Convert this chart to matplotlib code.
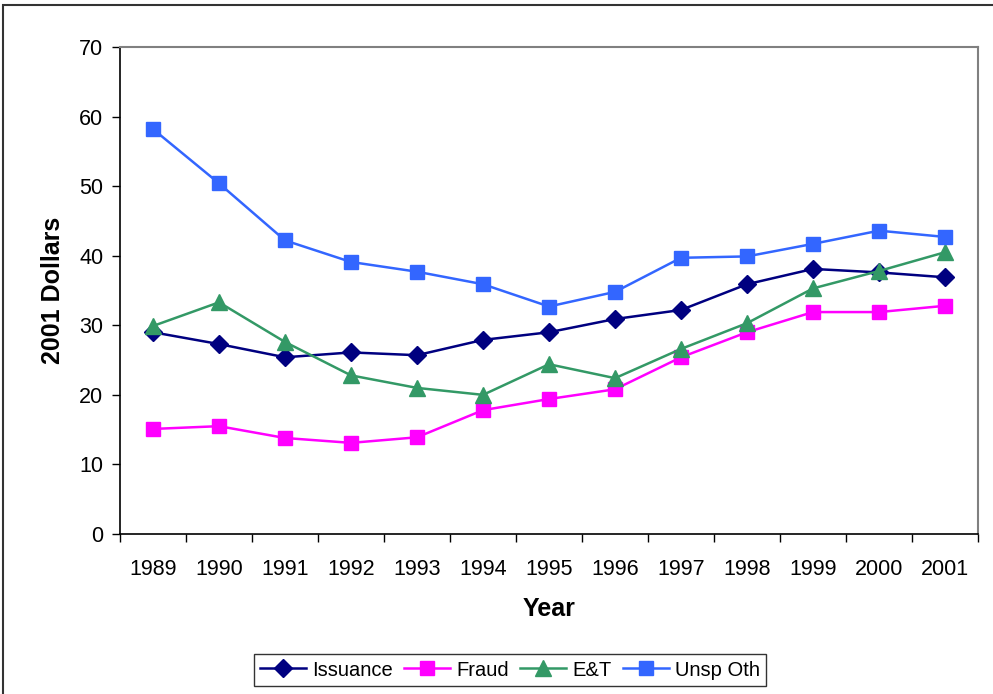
import matplotlib
matplotlib.use("Agg")
import matplotlib.pyplot as plt
from matplotlib.patches import Rectangle
import numpy as np

plt.rcParams['font.family'] = ['Liberation Sans', 'DejaVu Sans']

years = ["1989", "1990", "1991", "1992", "1993", "1994", "1995", "1996",
         "1997", "1998", "1999", "2000", "2001"]
issuance = [29.0, 27.3, 25.4, 26.1, 25.7, 27.9, 29.0, 30.9, 32.2, 35.9, 38.1, 37.6, 36.9]
fraud = [15.1, 15.5, 13.8, 13.1, 13.9, 17.8, 19.4, 20.8, 25.4, 29.0, 31.9, 31.9, 32.8]
et = [29.9, 33.3, 27.6, 22.8, 21.0, 20.0, 24.4, 22.4, 26.6, 30.3, 35.3, 37.8, 40.5]
unsp_oth = [58.2, 50.4, 42.2, 39.1, 37.7, 35.9, 32.7, 34.8, 39.7, 39.9, 41.7, 43.6, 42.7]
yticks = [0, 10, 20, 30, 40, 50, 60, 70]

fig = plt.figure(figsize=(9.93, 6.94), dpi=100)
ax = fig.add_axes([120/993, 1-534/694, (978-120)/993, (534-47)/694])

x = np.arange(len(years))
ax.plot(x, issuance, color='#000080', marker='D', markersize=9, lw=1.8, label='Issuance')
ax.plot(x, fraud, color='#FF00FF', marker='s', markersize=10, lw=1.8, label='Fraud')
ax.plot(x, et, color='#339966', marker='^', markersize=11, lw=1.8, label='E&T')
ax.plot(x, unsp_oth, color='#3366FF', marker='s', markersize=10, lw=1.8, label='Unsp Oth')

ax.set_xlim(-0.5, len(years) - 0.5)
ax.set_ylim(0, 70)
ax.set_yticks(yticks)
ax.set_yticklabels([str(v) for v in yticks], fontsize=15.5)
ax.set_xticks(np.arange(-0.5, len(years)), minor=False)
ax.set_xticklabels([])
ax.set_xticks(x, minor=True)
ax.set_xticklabels(years, minor=True, fontsize=15.5)
ax.tick_params(axis='x', which='major', length=6, width=1, direction='out')
ax.tick_params(axis='x', which='minor', length=0, pad=18)
ax.tick_params(axis='y', length=6, width=1, direction='out', pad=6)

for s in ['top', 'right']:
    ax.spines[s].set_color('#808080')
    ax.spines[s].set_linewidth(1.5)
for s in ['left', 'bottom']:
    ax.spines[s].set_color('black')
    ax.spines[s].set_linewidth(1.2)

ax.set_xlabel('Year', fontsize=18, fontweight='bold', labelpad=12)
ax.set_ylabel('2001 Dollars', fontsize=18, fontweight='bold', labelpad=10)

leg = ax.legend(loc='center', bbox_to_anchor=(510/993, 1-670/694), bbox_transform=fig.transFigure,
                ncol=4, fontsize=14.5, frameon=True, fancybox=False, edgecolor='black',
                handlelength=2.3, columnspacing=0.55, handletextpad=0.3, borderpad=0.3,
                borderaxespad=0)
leg.get_frame().set_linewidth(1.0)

fig.patches.append(Rectangle((3/993, -0.05), 1.1, 1 - 5/694 + 0.05, transform=fig.transFigure,
                             fill=False, edgecolor='#333333', lw=1.5))

fig.savefig('out.png', dpi=100)
